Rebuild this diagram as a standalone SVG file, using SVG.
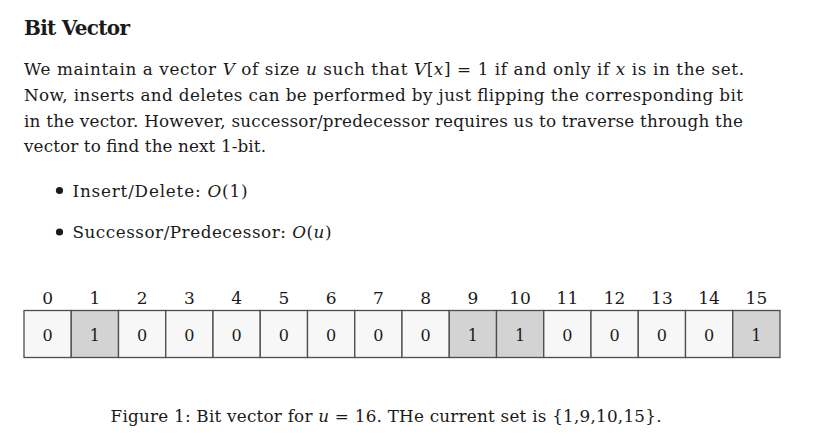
<svg xmlns="http://www.w3.org/2000/svg" width="828" height="437" viewBox="0 0 828 437">
<style>
text{font-family:"DejaVu Serif","Liberation Serif",serif;fill:#1a1a1a}
.t{font-size:20px;font-weight:bold}
.b{font-size:16.8px}
.i{font-style:italic}
.idx{font-size:17px;text-anchor:middle}
.val{font-size:16px;text-anchor:middle}
.c0{fill:#f7f7f7;stroke:#4d4d4d;stroke-width:1.3}
.c1{fill:#d3d3d3;stroke:#4d4d4d;stroke-width:1.3}
</style>
<rect width="828" height="437" fill="#ffffff"/>
<g id="text">
<text class="t" x="24" y="35" textLength="106">Bit Vector</text>
<text class="b" x="24" y="75" textLength="720">We maintain a vector <tspan class="i">V</tspan> of size <tspan class="i">u</tspan> such that <tspan class="i">V</tspan>[<tspan class="i">x</tspan>] = 1 if and only if <tspan class="i">x</tspan> is in the set.</text>
<text class="b" x="24" y="100.8" textLength="719">Now, inserts and deletes can be performed by just flipping the corresponding bit</text>
<text class="b" x="24" y="126.6" textLength="719">in the vector. However, successor/predecessor requires us to traverse through the</text>
<text class="b" x="24" y="152.4" textLength="242">vector to find the next 1-bit.</text>
<circle cx="59.5" cy="190.5" r="3.6" fill="#1a1a1a"/>
<text class="b" x="72.5" y="196.5" textLength="175">Insert/Delete: <tspan class="i">O</tspan>(1)</text>
<circle cx="59.5" cy="232" r="3.6" fill="#1a1a1a"/>
<text class="b" x="72.5" y="238" textLength="259">Successor/Predecessor: <tspan class="i">O</tspan>(<tspan class="i">u</tspan>)</text>
<text class="b" x="110.5" y="422" textLength="551">Figure 1: Bit vector for <tspan class="i">u</tspan> = 16. THe current set is {1,9,10,15}.</text>
</g>
<g id="indices">
<text class="idx" x="47.6" y="304">0</text>
<text class="idx" x="94.9" y="304">1</text>
<text class="idx" x="142.1" y="304">2</text>
<text class="idx" x="189.4" y="304">3</text>
<text class="idx" x="236.6" y="304">4</text>
<text class="idx" x="283.9" y="304">5</text>
<text class="idx" x="331.1" y="304">6</text>
<text class="idx" x="378.4" y="304">7</text>
<text class="idx" x="425.6" y="304">8</text>
<text class="idx" x="472.9" y="304">9</text>
<text class="idx" x="520.1" y="304">10</text>
<text class="idx" x="567.4" y="304">11</text>
<text class="idx" x="614.6" y="304">12</text>
<text class="idx" x="661.9" y="304">13</text>
<text class="idx" x="709.1" y="304">14</text>
<text class="idx" x="756.4" y="304">15</text>
</g>
<g id="cells">
<g id="cell0"><rect class="c0" x="24" y="310.5" width="47.25" height="47"/><text class="val" x="47.6" y="340.5">0</text></g>
<g id="cell1"><rect class="c1" x="71.25" y="310.5" width="47.25" height="47"/><text class="val" x="94.9" y="340.5">1</text></g>
<g id="cell2"><rect class="c0" x="118.5" y="310.5" width="47.25" height="47"/><text class="val" x="142.1" y="340.5">0</text></g>
<g id="cell3"><rect class="c0" x="165.75" y="310.5" width="47.25" height="47"/><text class="val" x="189.4" y="340.5">0</text></g>
<g id="cell4"><rect class="c0" x="213" y="310.5" width="47.25" height="47"/><text class="val" x="236.6" y="340.5">0</text></g>
<g id="cell5"><rect class="c0" x="260.25" y="310.5" width="47.25" height="47"/><text class="val" x="283.9" y="340.5">0</text></g>
<g id="cell6"><rect class="c0" x="307.5" y="310.5" width="47.25" height="47"/><text class="val" x="331.1" y="340.5">0</text></g>
<g id="cell7"><rect class="c0" x="354.75" y="310.5" width="47.25" height="47"/><text class="val" x="378.4" y="340.5">0</text></g>
<g id="cell8"><rect class="c0" x="402" y="310.5" width="47.25" height="47"/><text class="val" x="425.6" y="340.5">0</text></g>
<g id="cell9"><rect class="c1" x="449.25" y="310.5" width="47.25" height="47"/><text class="val" x="472.9" y="340.5">1</text></g>
<g id="cell10"><rect class="c1" x="496.5" y="310.5" width="47.25" height="47"/><text class="val" x="520.1" y="340.5">1</text></g>
<g id="cell11"><rect class="c0" x="543.75" y="310.5" width="47.25" height="47"/><text class="val" x="567.4" y="340.5">0</text></g>
<g id="cell12"><rect class="c0" x="591" y="310.5" width="47.25" height="47"/><text class="val" x="614.6" y="340.5">0</text></g>
<g id="cell13"><rect class="c0" x="638.25" y="310.5" width="47.25" height="47"/><text class="val" x="661.9" y="340.5">0</text></g>
<g id="cell14"><rect class="c0" x="685.5" y="310.5" width="47.25" height="47"/><text class="val" x="709.1" y="340.5">0</text></g>
<g id="cell15"><rect class="c1" x="732.75" y="310.5" width="47.25" height="47"/><text class="val" x="756.4" y="340.5">1</text></g>
</g>
<g id="connectors"/>
</svg>
